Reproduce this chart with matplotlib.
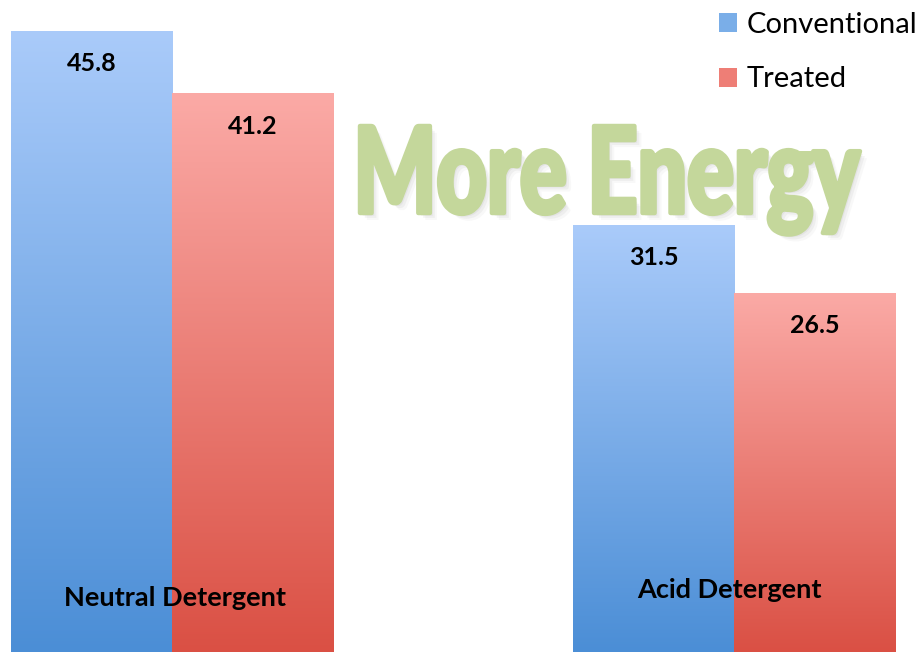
import numpy as np
import matplotlib
matplotlib.use("Agg")
import matplotlib.pyplot as plt
from matplotlib.patches import Patch, PathPatch
from matplotlib.textpath import TextPath
from matplotlib.font_manager import FontProperties
from matplotlib.transforms import Affine2D
from matplotlib.colors import LinearSegmentedColormap
import matplotlib.patheffects as pe

categories = ["Neutral Detergent", "Acid Detergent"]
series_names = ["Conventional", "Treated"]
conventional = [45.8, 31.5]
treated = [41.2, 26.5]
headline = "More Energy"

blue_top, blue_bottom = "#AACBFA", "#4B8ED6"
red_top, red_bottom = "#FBAAA6", "#DA5044"
green = "#C4D79B"

W, H = 919, 654
fig = plt.figure(figsize=(W / 100, H / 100), dpi=100)
fig.patch.set_facecolor("white")

ax = fig.add_axes([0, 2 / H, 1, 652 / H])
ax.set_xlim(-0.306, 1.329)
ax.set_ylim(0, 48.08)
ax.axis("off")

width = 0.2865
x = np.arange(len(categories))
px_per_unit_y = 652 / 48.08
px_per_unit_x = W / (1.329 + 0.306)


def gradient_bars(xpos, values, top, bottom, label):
    cmap = LinearSegmentedColormap.from_list(label, [bottom, top])
    bars = ax.bar(xpos, values, width=width, align="edge", color=top,
                  edgecolor="none", label=label, zorder=2)
    grad = np.linspace(0, 1, 256).reshape(-1, 1)
    for b in bars:
        x0, y0 = b.get_x(), b.get_y()
        im = ax.imshow(grad, extent=[x0, x0 + b.get_width(), y0, y0 + b.get_height()],
                       origin="lower", cmap=cmap, aspect="auto", zorder=3,
                       interpolation="bicubic")
        im.set_clip_path(b)
    return bars


bc = gradient_bars(x - width, conventional, blue_top, blue_bottom, series_names[0])
bt = gradient_bars(x, treated, red_top, red_bottom, series_names[1])

# value labels just below each bar top
for bars, vals in ((bc, conventional), (bt, treated)):
    for b, v in zip(bars, vals):
        ax.text(b.get_x() + b.get_width() / 2, v - 33 / px_per_unit_y, f"{v}",
                ha="center", va="center", fontsize=18, fontweight="bold",
                family="Lato", color="black", zorder=5)

# category names inside the bars
cat_y = [(652 - 598) / px_per_unit_y, (652 - 590) / px_per_unit_y]
cat_dx = [3 / px_per_unit_x, -5 / px_per_unit_x]
for xi, name, yy, dx in zip(x, categories, cat_y, cat_dx):
    ax.text(xi + dx, yy, name, ha="center", va="center", fontsize=19.5,
            fontweight="bold", family="Lato", color="black", zorder=5)

# legend
handles = [Patch(facecolor="#7AAEE8", edgecolor="none"),
           Patch(facecolor="#EE7E76", edgecolor="none")]
fig.legend(handles, series_names, loc="upper right", bbox_to_anchor=(1.027, 1.022),
           frameon=False, prop=FontProperties(family="Lato", size=21),
           handlelength=0.62, handleheight=0.62, handletextpad=0.35,
           labelspacing=0.98)

# headline overlay in pixel coordinates
ov = fig.add_axes([0, 0, 1, 1], zorder=10)
ov.set_xlim(0, W)
ov.set_ylim(H, 0)
ov.axis("off")
fp = FontProperties(family="Lato", weight="black")
tp = TextPath((0, 0), headline, size=100, prop=fp)
ext = tp.get_extents()
cap = TextPath((0, 0), "M", size=100, prop=fp).get_extents().height
sx = (860 - 360) / ext.width
sy = (213 - 126) / cap
tr = Affine2D().translate(-ext.x0, 0).scale(sx, -sy).translate(360, 213)
path = tr.transform_path(tp)
shadow_fx = [pe.SimplePatchShadow(offset=(o, -o), shadow_rgbFace="#AAAAAA", alpha=a)
             for o, a in ((5, 0.08), (3.5, 0.12), (2, 0.15))]
patch = PathPatch(path, facecolor=green, edgecolor=green, linewidth=3.2,
                  joinstyle="round", path_effects=shadow_fx + [pe.Normal()])
ov.add_patch(patch)

fig.savefig("out.png", dpi=100, facecolor="white")
